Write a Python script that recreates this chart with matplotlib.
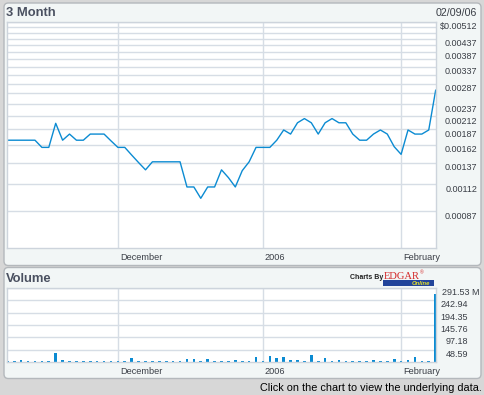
import matplotlib
matplotlib.use('Agg')
import matplotlib.pyplot as plt
from matplotlib.patches import FancyBboxPatch, Rectangle
from matplotlib.ticker import NullLocator
import matplotlib.transforms as mtransforms

plt.rcParams['font.family'] = ['Liberation Sans', 'DejaVu Sans']

# ---------------- data ----------------
prices = [0.00169, 0.00169, 0.00169, 0.00169, 0.00169, 0.00158, 0.00158, 0.00198,
          0.00169, 0.00179, 0.00169, 0.00169, 0.00179, 0.00179, 0.00179, 0.00168,
          0.00158, 0.00158, 0.00147, 0.00137, 0.00128, 0.00138, 0.00138, 0.00138,
          0.00138, 0.00138, 0.00109, 0.00109, 0.00098, 0.00109, 0.00109, 0.00128,
          0.00119, 0.00109, 0.00127, 0.00138, 0.00158, 0.00158, 0.00158, 0.00169,
          0.00186, 0.00179, 0.00199, 0.00207, 0.00199, 0.00179, 0.00199, 0.00207,
          0.00199, 0.00199, 0.00179, 0.00169, 0.00169, 0.00179, 0.00186, 0.00179,
          0.00159, 0.00148, 0.00186, 0.00179, 0.00179, 0.00186, 0.00270]

volumes_m = [4, 4, 8, 4, 4, 4, 4, 36, 8, 4, 4, 4, 4, 4, 4, 4, 4, 4, 16, 4,
             4, 4, 4, 4, 4, 4, 12, 12, 4, 12, 4, 4, 4, 6, 4, 4, 18, 4, 22, 14,
             18, 6, 6, 4, 26, 4, 14, 4, 6, 4, 4, 4, 4, 6, 4, 4, 10, 4, 6, 18,
             4, 4, 269]

month_ticks = [16, 37, 57]
month_labels = ['December', '2006', 'February']

price_grid = [0.00087, 0.00112, 0.00137, 0.00162, 0.00187, 0.00212, 0.00237,
              0.00262, 0.00287, 0.00312, 0.00337, 0.00362, 0.00387, 0.00412,
              0.00437, 0.00462, 0.00487, 0.00512]
price_label_vals = [0.00512, 0.00437, 0.00387, 0.00337, 0.00287, 0.00237,
                    0.00212, 0.00187, 0.00162, 0.00137, 0.00112, 0.00087]
price_labels = ['$0.00512', '0.00437', '0.00387', '0.00337', '0.00287', '0.00237',
                '0.00212', '0.00187', '0.00162', '0.00137', '0.00112', '0.00087']

vol_ticks = [48.59, 97.18, 145.76, 194.35, 242.94, 291.53]
vol_labels = ['48.59', '97.18', '145.76', '194.35', '242.94', '291.53 M']

title_price = '3 Month'
title_volume = 'Volume'
date_text = '02/09/06'
caption = 'Click on the chart to view the underlying data.'

# ---------------- layout helpers ----------------
W, H, DPI = 484, 395, 100
def fx(x):
    return x / W
def fy(y):
    return 1 - y / H

LINE_C = '#0b8bd2'
GRID_C = '#d6dde5'
TEXT_C = '#3a3e46'

fig = plt.figure(figsize=(W / DPI, H / DPI), dpi=DPI, facecolor='#d7d7d7')

for (x0, y0, x1, y1) in [(4, 3, 481, 265.5), (4, 267.5, 481, 378.5)]:
    p = FancyBboxPatch((fx(x0), fy(y1)), (x1 - x0) / W, (y1 - y0) / H,
                       boxstyle='round,pad=0,rounding_size=0.009',
                       mutation_aspect=W / H,
                       transform=fig.transFigure, fc='#f2f6f6', ec='#b4b8bc',
                       lw=1.0, zorder=-10)
    fig.patches.append(p)

xs = list(range(len(prices)))
XL = (-0.05, 62.05)

# ---------------- price axes ----------------
ax = fig.add_axes([fx(7), fy(248), (436 - 7) / W, (248 - 22) / H])
ax.set_zorder(2)
ax.set_facecolor('white')
ax.set_yscale('log')
ax.set_ylim(0.000615, 0.00512)
ax.set_xlim(*XL)
ax.set_yticks(price_grid)
ax.yaxis.set_minor_locator(NullLocator())
ax.set_yticklabels([])
ax.set_xticks(month_ticks)
ax.set_xticklabels([])
ax.tick_params(length=0, labelleft=False, labelbottom=False)
ax.grid(True, color=GRID_C, lw=1.0)
ax.set_axisbelow(True)
for s in ax.spines.values():
    s.set_color('#cdd4dc')
    s.set_linewidth(1.0)
ax.plot(xs, prices, color=LINE_C, lw=1.0)

trans_p = mtransforms.blended_transform_factory(fig.transFigure, ax.transData)
trans_p = mtransforms.offset_copy(trans_p, fig=fig, y=-5, units='dots')
for v, s in zip(price_label_vals, price_labels):
    ax.text(fx(477), v, s, transform=trans_p, ha='right', va='center',
            fontsize=6.5, color=TEXT_C, clip_on=False)

trans_x = mtransforms.blended_transform_factory(ax.transData, fig.transFigure)
trans_x = mtransforms.offset_copy(trans_x, fig=fig, x=2, units='dots')
for m, s in zip(month_ticks, month_labels):
    ax.text(m, fy(257.5), s, transform=trans_x, ha='left', va='center',
            fontsize=6.6, color=TEXT_C, clip_on=False)

# ---------------- volume axes ----------------
ax2 = fig.add_axes([fx(7), fy(362), (436 - 7) / W, (362 - 288) / H])
ax2.set_zorder(2)
ax2.set_facecolor('white')
ax2.set_xlim(*XL)
ax2.set_ylim(0, 291.53)
ax2.set_yticks(vol_ticks)
ax2.set_yticklabels([])
ax2.set_xticks(month_ticks)
ax2.set_xticklabels([])
ax2.tick_params(length=0, labelleft=False, labelbottom=False)
ax2.grid(True, color=GRID_C, lw=1.0)
ax2.set_axisbelow(True)
for s in ax2.spines.values():
    s.set_color('#cdd4dc')
    s.set_linewidth(1.0)
ax2.bar(xs, volumes_m, width=0.38, color=LINE_C, linewidth=0)

trans_v = mtransforms.blended_transform_factory(fig.transFigure, ax2.transData)
trans_v = mtransforms.offset_copy(trans_v, fig=fig, y=-4.5, units='dots')
for v, s in zip(vol_ticks, vol_labels):
    xr = 479 if s.endswith('M') else 468
    ax2.text(fx(xr), v, s, transform=trans_v, ha='right', va='center',
             fontsize=6.5, color=TEXT_C, clip_on=False)

trans_x2 = mtransforms.blended_transform_factory(ax2.transData, fig.transFigure)
trans_x2 = mtransforms.offset_copy(trans_x2, fig=fig, x=2, units='dots')
for m, s in zip(month_ticks, month_labels):
    ax2.text(m, fy(371.5), s, transform=trans_x2, ha='left', va='center',
             fontsize=6.6, color=TEXT_C, clip_on=False)

# ---------------- titles / texts ----------------
fig.text(fx(5.5), fy(12.7), title_price, fontsize=9.4, fontweight='bold',
         color='#4a5060', ha='left', va='center')
fig.text(fx(477.5), fy(13.3), date_text, fontsize=7.7, color=TEXT_C,
         ha='right', va='center')
fig.text(fx(5.5), fy(278.5), title_volume, fontsize=9.4, fontweight='bold',
         color='#4a5060', ha='left', va='center')
fig.text(fx(350), fy(277.7), 'Charts By', fontsize=5, fontweight='bold',
         color='#202020', ha='left', va='center')
fig.patches.append(Rectangle((fx(383.3), fy(285.7)), 51 / W, 5.4 / H,
                             transform=fig.transFigure, fc='#22449a', ec='none'))
fig.text(fx(384), fy(279.2), 'EDGAR', fontsize=7.6, family='Liberation Serif',
         color='#d42a2a', ha='left', va='baseline')
fig.text(fx(420), fy(272.5), '®', fontsize=3.5, color='#d42a2a', ha='left', va='center')
fig.text(fx(412), fy(283.2), 'Online', fontsize=4.2, fontweight='bold',
         fontstyle='italic', color='#e6e22a', ha='left', va='center')
fig.text(fx(481.7), fy(388.3), caption, fontsize=7.8, color='black',
         ha='right', va='center')

fig.savefig('out.png', dpi=DPI, facecolor=fig.get_facecolor())
